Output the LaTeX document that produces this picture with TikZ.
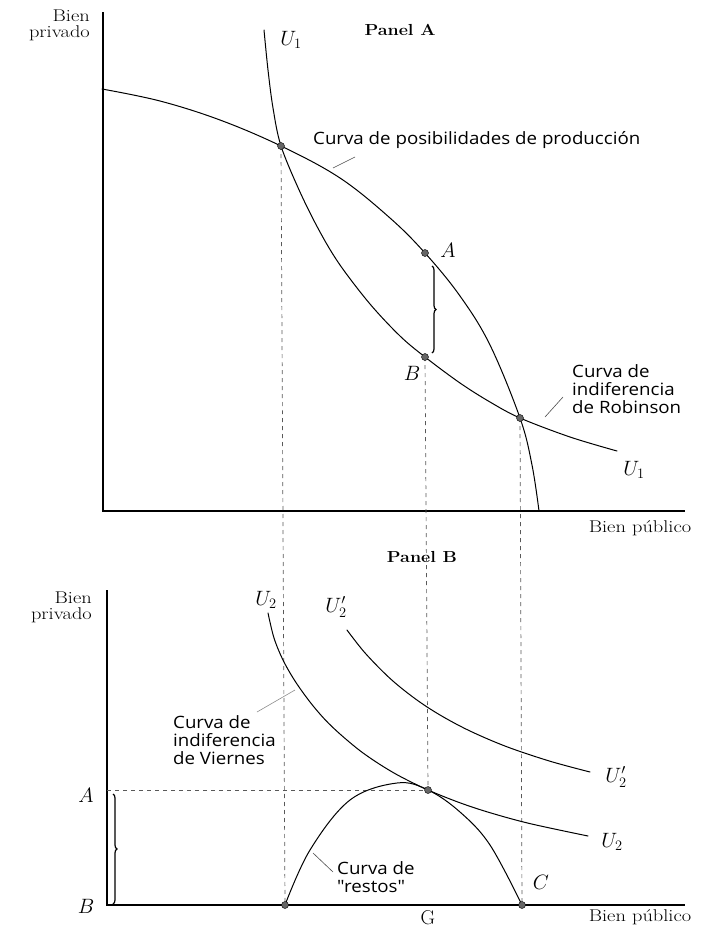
\documentclass[tikz,border=0pt]{standalone}
\usepackage{fontspec}
\newfontfamily\lblfont{Open Sans}[FakeStretch=1.1]
\newfontfamily\axfont{Latin Modern Roman}[FakeStretch=1.2]
\newfontfamily\pnfont{Latin Modern Roman}[FakeStretch=1.12]
\usetikzlibrary{decorations.pathreplacing}
\begin{document}
\begin{tikzpicture}[x=1pt,y=-1pt,
  curve/.style={line width=1pt, line cap=round},
  axis/.style={line width=1.3pt},
  guide/.style={line width=0.7pt, dash pattern=on 4pt off 4pt, black!65},
  dot/.style={circle, fill=black!60, draw=black, line width=0.4pt, inner sep=0pt, minimum size=7pt},
  leader/.style={line width=0.6pt, black!70},
  lbl/.style={font=\lblfont\fontsize{17}{18}\selectfont, align=left, inner sep=0pt},
  axlbl/.style={font=\axfont\fontsize{17}{16}\selectfont, inner sep=0pt},
  panel/.style={font=\pnfont\bfseries\fontsize{16}{16}\selectfont, inner sep=0pt},
  letter/.style={font=\fontsize{20}{20}\selectfont, inner sep=0pt},
  brc/.style={decorate, decoration={brace, amplitude=4pt}, line width=1.2pt},
]
\useasboundingbox (0,0) rectangle (702,929);

% ---------- Panel A ----------
\coordinate (yA) at (103,12);
\coordinate (oA) at (103,511);
\coordinate (xA) at (685,511);
\draw[axis] (yA) -- (oA) -- (xA);

\coordinate (p1) at (281,146);
\coordinate (pa) at (425,253);
\coordinate (pb) at (425,357);
\coordinate (p2) at (520,418);

% Panel B points
\coordinate (t) at (428,790);
\coordinate (r0) at (285,905);
\coordinate (c) at (522,905);

% guides
\draw[guide] (p1) -- (r0);
\draw[guide] (pb) -- (t);
\draw[guide] (p2) -- (c);

% production possibilities curve
\draw[curve] plot[smooth, tension=0.6] coordinates {(102,89) (160,101) (220,120) (p1) (340,178) (390,218) (pa) (460,296) (490,345) (p2) (532,465) (539,511)};
% Robinson indifference curve U1
\draw[curve] plot[smooth, tension=0.55] coordinates {(264,30) (268,70) (273,108) (p1) (300,192) (320,232) (340,265) (370,304) (400,336) (pb) (460,383) (490,402) (p2) (570,437) (617,451)};

\node[axlbl, align=right, anchor=east] (ylA) at (90,25) {Bien\\privado};
\node[axlbl] (xlA) at (640,528) {Bien público};
\node[panel] (pA) at (400,30) {Panel A};
\node[letter] (u1top) at (291,40) {$U_1$};
\node[letter] (u1end) at (634,470) {$U_1$};
\node[letter] (la) at (448,250) {$A$};
\node[letter] (lb) at (412,373) {$B$};
\node[lbl, anchor=west] (ppf) at (313,140) {Curva de posibilidades de producción};
\node[lbl, anchor=north west] (rob) at (572,364) {Curva de\\indiferencia\\de Robinson};

\coordinate (l1a) at (333,168); \coordinate (l1b) at (355,157);
\draw[leader] (l1a) -- (l1b);
\coordinate (l2a) at (545,417); \coordinate (l2b) at (563,397);
\draw[leader] (l2a) -- (l2b);

\coordinate (bra) at (432,266); \coordinate (brb) at (432,353);
\draw[brc] (bra) -- (brb);

% ---------- Panel B ----------
\coordinate (yB) at (107,590);
\coordinate (oB) at (107,905);
\coordinate (xB) at (685,905);
\draw[axis] (yB) -- (oB) -- (xB);

\coordinate (aB) at (107,790);
\draw[guide] (aB) -- (t);

% U2
\draw[curve] plot[smooth, tension=0.55] coordinates {(268,613) (274,638) (283,660) (295,681) (310,702) (325,719.6) (340,734) (360,750.7) (380,764.5) (400,776.3) (t) (460,802.8) (490,812.7) (530,823.6) (588,836)};
% U'2
\draw[curve] plot[smooth, tension=0.55] coordinates {(347,630) (365,652.9) (390,678.4) (415,698.6) (440,715) (470,731) (507,746.8) (550,761.2) (590,772)};
% restos curve
\draw[curve] plot[smooth, tension=0.6] coordinates {(r0) (310,850) (350,800) (397,783) (t) (460,812) (490,845) (c)};

\node[axlbl, align=right, anchor=east] (ylB) at (92,607) {Bien\\privado};
\node[axlbl] (xlB) at (640,917) {Bien público};
\node[panel] (pB) at (422,557) {Panel B};
\node[letter] (u2top) at (266,600) {$U_2$};
\node[letter] (u2ptop) at (336,607) {$U'_2$};
\node[letter] (u2end) at (612,842) {$U_2$};
\node[letter] (u2pend) at (616,777) {$U'_2$};
\node[letter] (lA2) at (86,795) {$A$};
\node[letter] (lB2) at (86,906) {$B$};
\node[letter] (lG) at (428,918) {G};
\node[letter] (lC) at (541,882) {$C$};
\node[lbl, anchor=north west] (vie) at (173,715) {Curva de\\indiferencia\\de Viernes};
\node[lbl, anchor=north west] (res) at (337,861) {Curva de\\"restos"};

\coordinate (l3a) at (257,712); \coordinate (l3b) at (295,690);
\draw[leader, black!45] (l3a) -- (l3b);
\coordinate (l4a) at (313,853); \coordinate (l4b) at (333,872);
\draw[leader] (l4a) -- (l4b);

\coordinate (brc1) at (113,794); \coordinate (brc2) at (113,904);
\draw[brc] (brc1) -- (brc2);

% dots
\node[dot] (P1) at (p1) {};
\node[dot] (PA) at (pa) {};
\node[dot] (PB) at (pb) {};
\node[dot] (P2) at (p2) {};
\node[dot] (T) at (t) {};
\node[dot] (R0) at (r0) {};
\node[dot] (C) at (c) {};
\end{tikzpicture}
\end{document}
